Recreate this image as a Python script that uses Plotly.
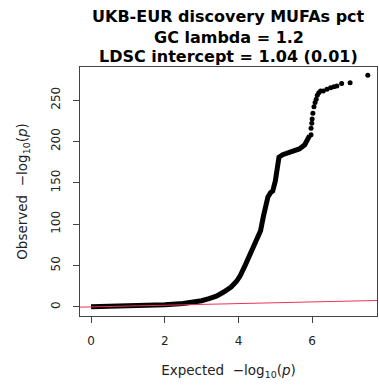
import plotly.graph_objects as go

# Dense part of the QQ curve (expected vs observed -log10 p)
dense_expected = [0, 0.5, 1.0, 1.5, 2.0, 2.5, 2.8, 3.0, 3.2, 3.4, 3.6, 3.8, 3.95, 4.05,
                  4.2, 4.35, 4.5, 4.6, 4.68, 4.75, 4.8, 4.87, 4.93, 5.0, 5.05, 5.1,
                  5.2, 5.35, 5.5, 5.65, 5.8, 5.88, 5.93]
dense_observed = [0.2, 0.6, 1.0, 1.6, 2.5, 4, 5.5, 7.5, 10, 13, 18, 24, 31, 38,
                  52, 66, 82, 92, 110, 124, 133, 138, 140, 152, 170, 181,
                  184, 186, 188, 191, 196, 202, 207]

# Sparse top points
sparse_expected = [5.97, 5.97, 5.99, 6.0, 6.02, 6.05, 6.08, 6.11, 6.14, 6.18, 6.23,
                   6.3, 6.4, 6.5, 6.59, 6.67, 6.8, 7.03, 7.51]
sparse_observed = [208, 216, 222, 227, 234, 242, 247, 251, 256, 259, 261,
                   261, 263, 265, 266, 267, 270, 271, 280]

title_lines = ["UKB-EUR discovery MUFAs pct", "GC lambda = 1.2", "LDSC intercept = 1.04 (0.01)"]
x_ticks = [0, 2, 4, 6]
y_ticks = [0, 50, 100, 150, 200, 250]

x_range = [-0.3, 7.76]
y_range = [-11, 290]

font = "DejaVu Sans"

fig = go.Figure()
fig.add_trace(go.Scatter(x=dense_expected, y=dense_observed, mode="lines",
                         line=dict(color="black", width=5), showlegend=False))
fig.add_trace(go.Scatter(x=sparse_expected, y=sparse_observed, mode="markers",
                         marker=dict(color="black", size=5), showlegend=False))
# identity line
fig.add_trace(go.Scatter(x=x_range, y=x_range, mode="lines",
                         line=dict(color="#ee3355", width=1), showlegend=False))

plot_h = 249
annotations = []
for i, line in enumerate(title_lines):
    annotations.append(dict(text="<b>" + line + "</b>", xref="paper", yref="paper",
                            x=0.5, y=1 + (50 - 20 * i) / plot_h, xanchor="center", yanchor="middle",
                            showarrow=False, font=dict(family=font, size=16, color="black")))

fig.update_layout(
    width=379, height=387,
    margin=dict(l=80, r=2, t=67, b=71),
    paper_bgcolor="white", plot_bgcolor="white",
    annotations=annotations,
    font=dict(family=font, size=12, color="#222"),
    xaxis=dict(range=x_range, tickvals=x_ticks, showgrid=False, zeroline=False,
               showline=True, mirror=True, linecolor="#444", linewidth=1,
               ticks="outside", ticklen=6, tickcolor="#444", automargin=False,
               ticklabelstandoff=8,
               title=dict(text="Expected&nbsp;&nbsp;−log<sub>10</sub>(<i>p</i>)", standoff=18,
                          font=dict(size=13.5))),
    yaxis=dict(range=y_range, tickvals=y_ticks, showgrid=False, zeroline=False,
               showline=True, mirror=True, linecolor="#444", linewidth=1,
               ticks="outside", ticklen=6, tickcolor="#444", tickangle=-90,
               ticklabelstandoff=8, automargin=False,
               title=dict(text="Observed&nbsp;&nbsp;−log<sub>10</sub>(<i>p</i>)", standoff=18,
                          font=dict(size=13.5))),
)

fig.write_html("out.html", config={"displayModeBar": False},
               post_script="document.body.style.margin='0';document.body.style.overflow='hidden';")
